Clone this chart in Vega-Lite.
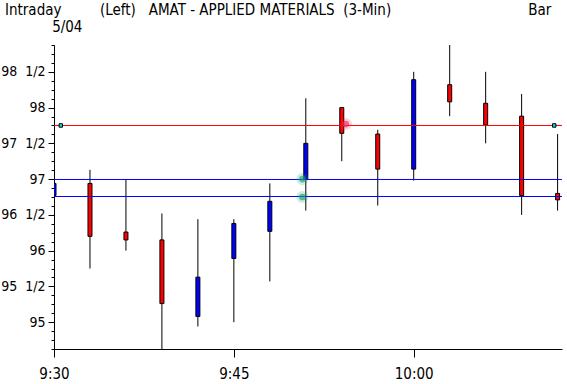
{
  "$schema": "https://vega.github.io/schema/vega-lite/v6.json",
  "autosize": "none",
  "width": 508,
  "height": 304,
  "padding": {"left": 54, "top": 45, "right": 5, "bottom": 35},
  "background": "white",
  "title": {
    "text": "Intraday\u00a0\u00a0\u00a0\u00a0\u00a0\u00a0\u00a0\u00a0\u00a0(Left)\u00a0\u00a0\u00a0AMAT - APPLIED MATERIALS\u00a0\u00a0(3-Min)\u00a0\u00a0\u00a0\u00a0\u00a0\u00a0\u00a0\u00a0\u00a0\u00a0\u00a0\u00a0\u00a0\u00a0\u00a0\u00a0\u00a0\u00a0\u00a0\u00a0\u00a0\u00a0\u00a0\u00a0\u00a0\u00a0\u00a0\u00a0\u00a0\u00a0\u00a0\u00a0Bar",
    "subtitle": "\u200b\u00a0\u00a0\u00a0\u00a0\u00a0\u00a0\u00a0\u00a0\u00a0\u00a0\u00a05/04",
    "anchor": "start",
    "frame": "group",
    "dx": -49,
    "offset": 10,
    "font": "DejaVu Sans Condensed, sans-serif",
    "fontSize": 15,
    "fontWeight": "normal",
    "color": "black",
    "subtitleFont": "DejaVu Sans Condensed, sans-serif",
    "subtitleFontSize": 15,
    "subtitleColor": "black",
    "subtitlePadding": 2
  },
  "config": {
    "view": {"stroke": null},
    "axis": {
      "grid": false,
      "domainColor": "black",
      "domainWidth": 1,
      "tickColor": "black",
      "tickWidth": 1,
      "labelColor": "black",
      "labelFont": "DejaVu Sans Condensed, sans-serif",
      "labelFontSize": 15,
      "title": null
    }
  },
  "resolve": {"axis": {"y": "independent"}},
  "datasets": {
    "candles": [
      {"time": "2000-05-04T09:30:00", "open": 96.77, "high": 97.82, "low": 96.75, "close": 96.94},
      {"time": "2000-05-04T09:33:00", "open": 96.94, "high": 97.13, "low": 95.75, "close": 96.2},
      {"time": "2000-05-04T09:36:00", "open": 96.26, "high": 97.0, "low": 96.0, "close": 96.15},
      {"time": "2000-05-04T09:39:00", "open": 96.15, "high": 96.52, "low": 94.625, "close": 95.26},
      {"time": "2000-05-04T09:42:00", "open": 95.08, "high": 96.44, "low": 94.94, "close": 95.63},
      {"time": "2000-05-04T09:45:00", "open": 95.89, "high": 96.44, "low": 95.0, "close": 96.38},
      {"time": "2000-05-04T09:48:00", "open": 96.27, "high": 96.94, "low": 95.57, "close": 96.69},
      {"time": "2000-05-04T09:51:00", "open": 97.0, "high": 98.13, "low": 96.56, "close": 97.5},
      {"time": "2000-05-04T09:54:00", "open": 98.0, "high": 98.0, "low": 97.25, "close": 97.64},
      {"time": "2000-05-04T09:57:00", "open": 97.63, "high": 97.69, "low": 96.63, "close": 97.14},
      {"time": "2000-05-04T10:00:00", "open": 97.14, "high": 98.5, "low": 96.98, "close": 98.39},
      {"time": "2000-05-04T10:03:00", "open": 98.32, "high": 98.88, "low": 97.88, "close": 98.08},
      {"time": "2000-05-04T10:06:00", "open": 98.06, "high": 98.5, "low": 97.5, "close": 97.76},
      {"time": "2000-05-04T10:09:00", "open": 97.88, "high": 98.19, "low": 96.5, "close": 96.77},
      {"time": "2000-05-04T10:12:00", "open": 96.8, "high": 97.63, "low": 96.56, "close": 96.71}
    ],
    "levels": [
      {"level": 97.75, "side": "resistance"},
      {"level": 96.995, "side": "support"},
      {"level": 96.757, "side": "support"}
    ],
    "markers": [
      {"time": "2000-05-04T09:30:34", "price": 97.75},
      {"time": "2000-05-04T10:11:43", "price": 97.75}
    ],
    "signals": [
      {"time": "2000-05-04T09:50:43", "price": 97.0, "signal": "buy"},
      {"time": "2000-05-04T09:50:43", "price": 96.75, "signal": "buy"},
      {"time": "2000-05-04T09:54:20", "price": 97.77, "signal": "sell"}
    ]
  },
  "layer": [
    {
      "data": {"name": "candles"},
      "mark": {"type": "rule", "color": "black", "strokeWidth": 1, "clip": true},
      "encoding": {
        "x": {
          "field": "time", "type": "temporal",
          "scale": {
            "domain": [
              {"year": 2000, "month": 5, "date": 4, "hours": 9, "minutes": 30},
              {"year": 2000, "month": 5, "date": 4, "hours": 10, "minutes": 12, "seconds": 22}
            ],
            "nice": false,
            "padding": 0
          },
          "axis": {
            "values": [
              {"year": 2000, "month": 5, "date": 4, "hours": 9, "minutes": 30},
              {"year": 2000, "month": 5, "date": 4, "hours": 9, "minutes": 45},
              {"year": 2000, "month": 5, "date": 4, "hours": 10, "minutes": 0}
            ],
            "format": "%-H:%M",
            "tickSize": 8,
            "labelPadding": 9,
            "labelFlush": false,
            "labelOverlap": false
          }
        },
        "y": {
          "field": "low", "type": "quantitative",
          "scale": {"domain": [94.625, 98.875], "nice": false, "zero": false, "padding": 0},
          "axis": {
            "orient": "left",
            "values": [95, 95.5, 96, 96.5, 97, 97.5, 98, 98.5],
            "labelExpr": "floor(datum.value) + (datum.value % 1 === 0.5 ? '\u00a0 1/2' : '')",
            "labelFontSize": 14,
            "labelAlign": "right",
            "tickSize": 6,
            "labelPadding": 3,
            "labelFlush": false,
            "labelOverlap": false
          }
        },
        "y2": {"field": "high"}
      }
    },
    {
      "data": {"name": "candles"},
      "mark": {"type": "bar", "size": 4, "stroke": "black", "strokeWidth": 1, "clip": true, "orient": "vertical"},
      "encoding": {
        "x": {"field": "time", "type": "temporal"},
        "y": {
          "field": "open", "type": "quantitative",
          "axis": {
            "orient": "left",
            "values": [94.625, 94.75, 94.875, 95, 95.125, 95.25, 95.375, 95.5, 95.625, 95.75, 95.875, 96, 96.125, 96.25, 96.375, 96.5, 96.625, 96.75, 96.875, 97, 97.125, 97.25, 97.375, 97.5, 97.625, 97.75, 97.875, 98, 98.125, 98.25, 98.375, 98.5, 98.625, 98.75, 98.875],
            "labels": false,
            "tickSize": 3,
            "domain": true
          }
        },
        "y2": {"field": "close"},
        "fill": {"condition": {"test": "datum.close > datum.open", "value": "#0000ff"}, "value": "#ff0000"}
      }
    },
    {
      "data": {"name": "levels"},
      "mark": {"type": "rule", "strokeWidth": 1},
      "encoding": {
        "y": {"field": "level", "type": "quantitative", "axis": null},
        "stroke": {"field": "side", "type": "nominal", "scale": {"domain": ["resistance", "support"], "range": ["#ff0000", "#0000ff"]}, "legend": null}
      }
    },
    {
      "data": {"name": "markers"},
      "mark": {"type": "point", "shape": "square", "size": 12, "filled": true, "fill": "#00e0e0", "stroke": "black", "strokeWidth": 1, "opacity": 1},
      "encoding": {
        "x": {"field": "time", "type": "temporal"},
        "y": {"field": "price", "type": "quantitative", "axis": null}
      }
    },
    {
      "data": {"name": "signals"},
      "mark": {"type": "circle", "size": 150, "opacity": 0.2},
      "encoding": {
        "x": {"field": "time", "type": "temporal"},
        "y": {"field": "price", "type": "quantitative", "axis": null},
        "fill": {"field": "signal", "type": "nominal", "scale": {"domain": ["buy", "sell"], "range": ["#15a070", "#ee2a58"]}, "legend": null}
      }
    },
    {
      "data": {"name": "signals"},
      "mark": {"type": "circle", "size": 45, "opacity": 0.65},
      "encoding": {
        "x": {"field": "time", "type": "temporal"},
        "y": {"field": "price", "type": "quantitative", "axis": null},
        "fill": {"field": "signal", "type": "nominal", "legend": null}
      }
    }
  ]
}
